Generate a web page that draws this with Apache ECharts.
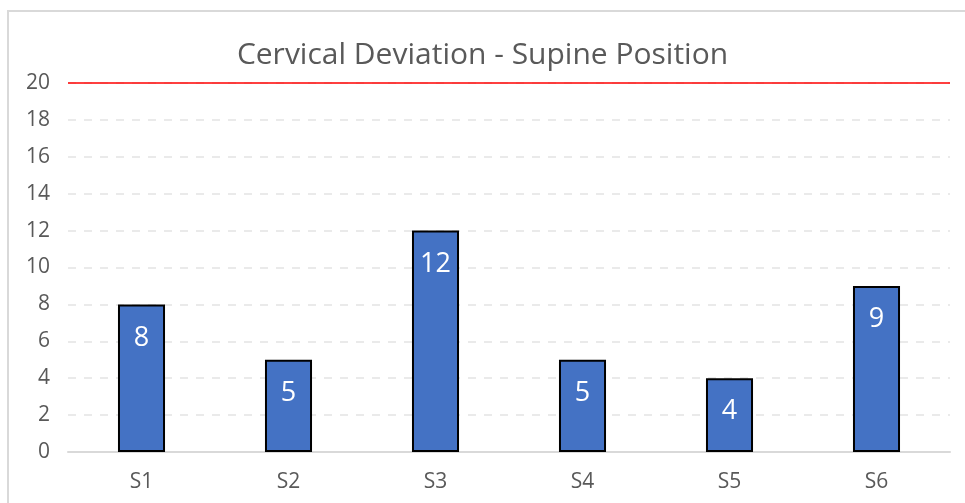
<!DOCTYPE html>
<html>
<head>
<meta charset="utf-8">
<script src="https://cdn.jsdelivr.net/npm/echarts@6/dist/echarts.min.js"></script>
<style>
  html, body { margin: 0; padding: 0; background: #fff; }
  #frame { position: absolute; left: 7px; top: 10px; width: 970px; height: 500px; border: 2px solid #d9d9d9; box-sizing: border-box; }
  #chart { position: absolute; left: 0; top: 0; width: 965px; height: 503px; }
</style>
</head>
<body>
<div id="frame"></div>
<div id="chart"></div>
<script>
// data
const categories = ['S1', 'S2', 'S3', 'S4', 'S5', 'S6'];
const deviation = [8, 5, 12, 5, 4, 9];
const limitValue = 20;

const myChart = echarts.init(document.getElementById('chart'));

const option = {
  title: {
    text: 'Cervical Deviation - Supine Position',
    left: 'center',
    top: 35,
    textStyle: { color: '#595959', fontSize: 30, fontWeight: 'normal', fontFamily: 'Open Sans' }
  },
  grid: { left: 68, right: 15, top: 83, bottom: 51, outerBoundsMode: 'none' },
  xAxis: {
    type: 'category',
    data: categories,
    axisLine: { lineStyle: { color: '#d9d9d9', width: 2 } },
    axisTick: { show: false },
    axisLabel: { color: '#595959', fontSize: 21, margin: 20, fontFamily: 'Open Sans' }
  },
  yAxis: {
    type: 'value',
    min: 0,
    max: 20,
    interval: 2,
    axisLine: { show: false },
    axisTick: { show: false },
    axisLabel: { color: '#595959', fontSize: 21, margin: 18, fontFamily: 'Open Sans' },
    splitLine: { lineStyle: { color: '#e3e3e3', type: [8, 8], width: 1.5 } }
  },
  series: [
    {
      type: 'bar',
      data: deviation,
      barWidth: '32%',
      itemStyle: { color: '#4472c4', borderColor: '#000', borderWidth: 2 },
      label: {
        show: true,
        position: 'insideTop',
        distance: 20,
        color: '#fff',
        fontSize: 27,
        fontFamily: 'Open Sans'
      },
      markLine: {
        silent: true,
        symbol: 'none',
        label: { show: false },
        lineStyle: { color: '#ff0000', type: 'solid', width: 1.5 },
        data: [{ yAxis: limitValue }]
      }
    }
  ]
};

myChart.setOption(option);
</script>
</body>
</html>
